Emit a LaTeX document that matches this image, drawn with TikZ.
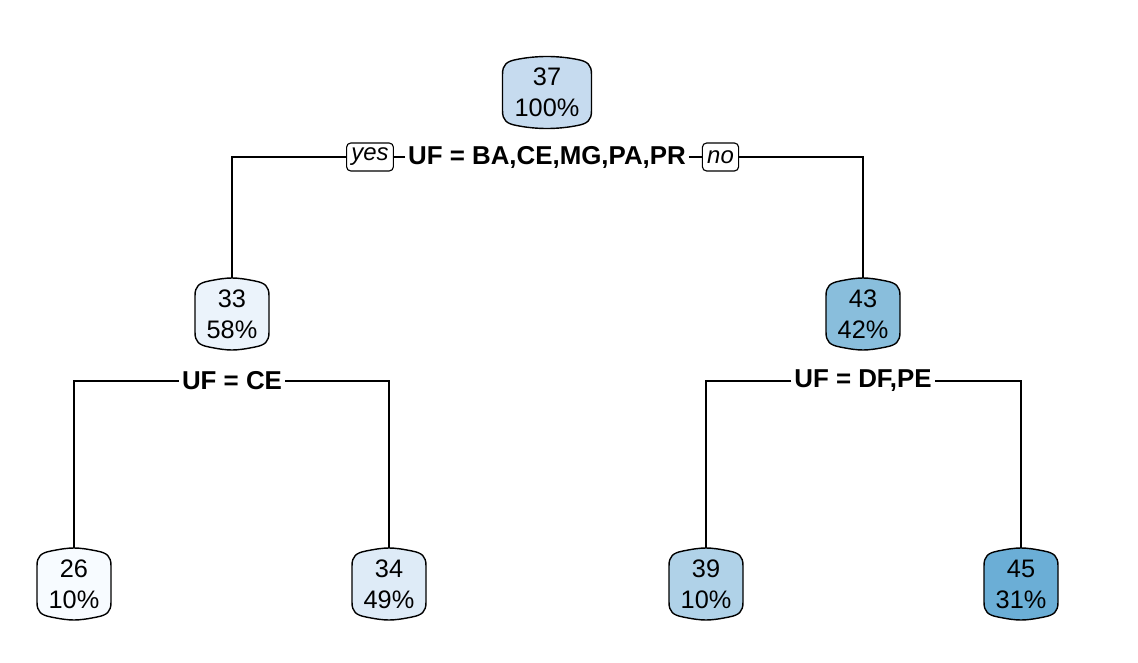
\documentclass[tikz,border=0pt]{standalone}
\usepackage{fontspec}
\setmainfont{Liberation Sans}
\usetikzlibrary{positioning}
\definecolor{BlueA}{HTML}{F7FBFF}
\definecolor{BlueB}{HTML}{EBF3FB}
\definecolor{BlueC}{HTML}{DEEBF7}
\definecolor{BlueD}{HTML}{C6DBEF}
\definecolor{BlueE}{HTML}{B0D2E8}
\definecolor{BlueF}{HTML}{89BEDC}
\definecolor{BlueG}{HTML}{6BAED6}
% barrel outline behind a leaf: x, y, half width, fill
\newcommand{\barrel}[4]{%
  \filldraw[shift={(#1,#2)},fill=#4,draw=black,line width=1pt]
    (-#3,-18) -- (-#3,18) .. controls (-#3,28) and ({-#3+4},31) .. ({-#3+14},33)
    .. controls ({-#3+34},37) and ({#3-34},37) .. ({#3-14},33)
    .. controls ({#3-4},31) and (#3,28) .. (#3,18) -- (#3,-18)
    .. controls (#3,-28) and ({#3-4},-31) .. ({#3-14},-33)
    .. controls ({#3-34},-37) and ({-#3+34},-37) .. ({-#3+14},-33)
    .. controls ({-#3+4},-31) and (-#3,-28) .. cycle;}

\begin{document}
\begin{tikzpicture}[x=0.025cm,y=-0.025cm,
  tree/.style={line width=1.4pt},
  leaf/.style={minimum width=1.85cm,minimum height=1.8cm,inner sep=0pt,align=center,
    font=\fontsize{18}{22}\selectfont},
  split/.style={font=\bfseries\fontsize{18.4}{20}\selectfont,inner sep=2pt},
  answer/.style={draw,rounded corners=3pt,line width=0.8pt,minimum height=0.7cm,
    inner xsep=0.12cm,inner ysep=0pt,font=\itshape\fontsize{17}{18}\selectfont}]
\useasboundingbox (0,0) rectangle (1138,663);

% boxes
\barrel{547}{92.5}{44.5}{BlueD}
\barrel{232}{314}{37}{BlueB}
\barrel{863}{314}{37}{BlueF}
\barrel{74}{584}{37}{BlueA}
\barrel{389}{584}{37}{BlueC}
\barrel{706}{584}{37}{BlueE}
\barrel{1021}{584}{37}{BlueG}

\node[leaf,minimum width=2.225cm] (n37) at (547,92.5) {37\\100\%};
\node[leaf] (n33) at (232,314) {33\\58\%};
\node[leaf] (n43) at (863,314) {43\\42\%};
\node[leaf] (n26) at (74,584) {26\\10\%};
\node[leaf] (n34) at (389,584) {34\\49\%};
\node[leaf] (n39) at (706,584) {39\\10\%};
\node[leaf] (n45) at (1021,584) {45\\31\%};

% splits
\node[split] (s37) at (547,157) {UF = BA,CE,MG,PA,PR};
\node[answer] (yes) at (370,157) {yes};
\node[answer] (no) at (720.5,157) {no};
\node[split] (s33) at (232,381) {UF = CE};
\node[split] (s43) at (863,381) {UF = DF,PE};

% connectors
\draw[tree] (s37.west) -- (yes.east);
\draw[tree] (yes.west) -| (n33.north);
\draw[tree] (s37.east) -- (no.west);
\draw[tree] (no.east) -| (n43.north);
\draw[tree] (s33.west) -| (n26.north);
\draw[tree] (s33.east) -| (n34.north);
\draw[tree] (s43.west) -| (n39.north);
\draw[tree] (s43.east) -| (n45.north);
\end{tikzpicture}
\end{document}
